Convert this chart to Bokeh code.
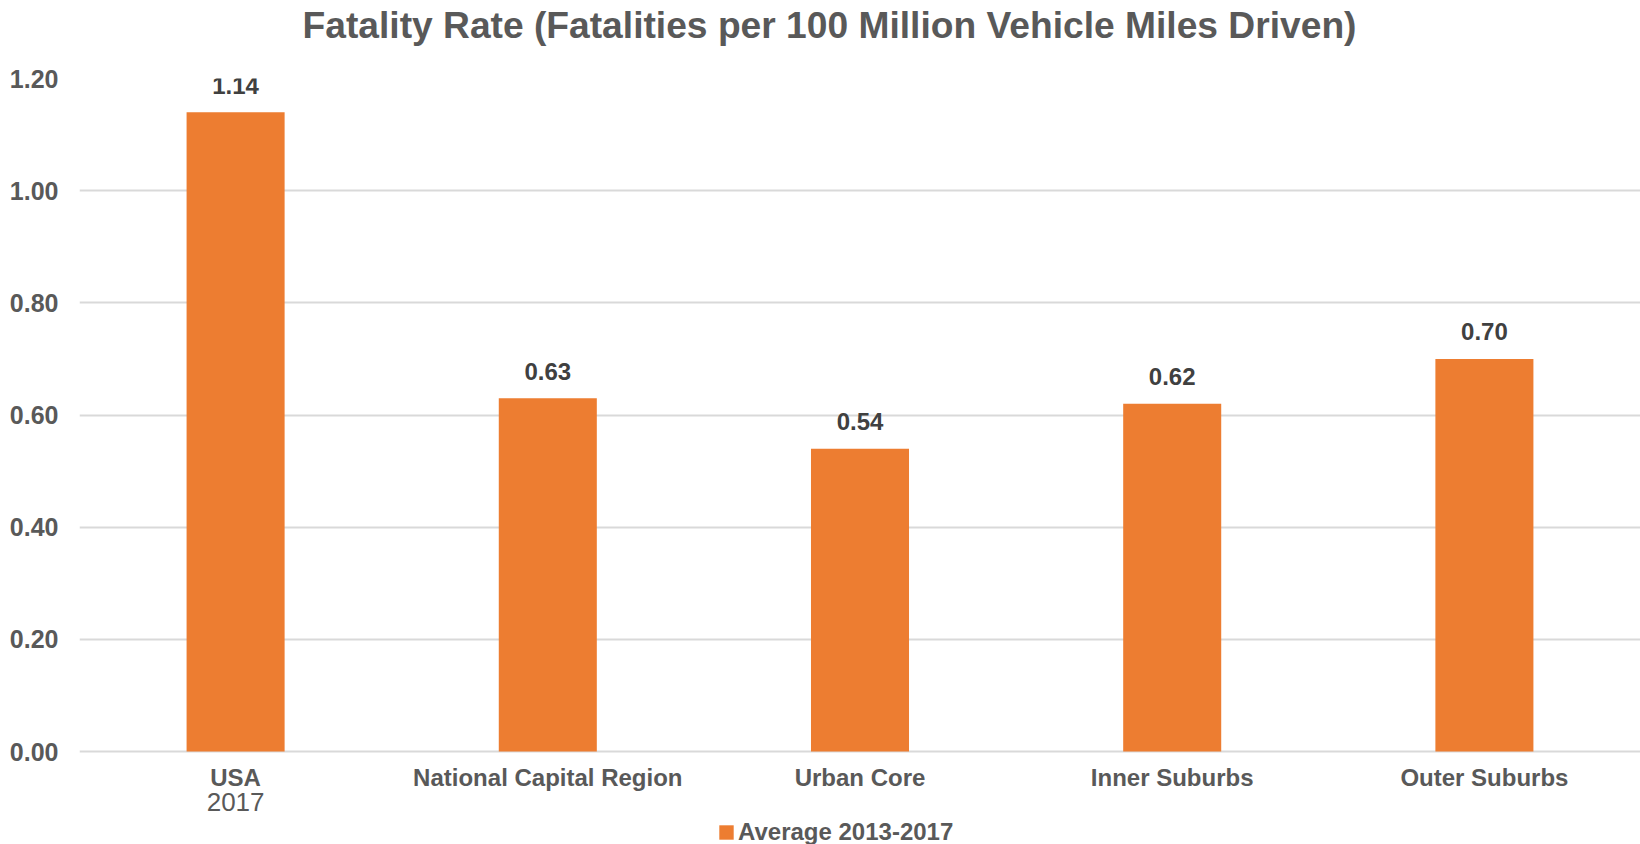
from bokeh.plotting import figure
from bokeh.models import (Range1d, FactorRange, FixedTicker, Title,
                          Legend, LegendItem, ColumnDataSource, NumeralTickFormatter)
from bokeh.core.properties import value
from bokeh.embed import file_html
from bokeh.resources import INLINE

title_text = "Fatality Rate (Fatalities per 100 Million Vehicle Miles Driven)"
categories = ["USA", "National Capital Region", "Urban Core", "Inner Suburbs", "Outer Suburbs"]
sublabels = ["2017", "", "", "", ""]
rates = [1.14, 0.63, 0.54, 0.62, 0.70]
series_name = "Average 2013-2017"
y_ticks = [0.0, 0.2, 0.4, 0.6, 0.8, 1.0, 1.2]

FONT = "Liberation Sans"
GRAY = "#595959"
BAR = "#ED7D31"

# pixel layout of the frame: 0 at y=751, 1.2 at y=78, frame extends to canvas bottom (844)
PX_PER_UNIT = (751 - 78) / 1.2
Y_MIN = -(844 - 751) / PX_PER_UNIT

src = ColumnDataSource(dict(cat=categories, rate=rates, sub=sublabels,
                            base=[0.0] * len(categories),
                            lbl=[f"{v:.2f}" for v in rates]))

p = figure(width=1640, height=844, output_backend="svg", toolbar_location=None,
           x_range=FactorRange(*categories, range_padding=0),
           y_range=Range1d(Y_MIN, 1.2),
           min_border_left=79, min_border_right=0, min_border_top=78, min_border_bottom=0)
p.outline_line_color = None
p.background_fill_color = "white"
p.border_fill_color = "white"

r = p.vbar(x="cat", top="rate", bottom="base", width=0.314, source=src,
           fill_color=BAR, line_color=None)

# value labels
p.text(x="cat", y="rate", text="lbl", source=src, text_align="center", text_baseline="alphabetic",
       y_offset=-27, text_font=value(FONT), text_font_style="bold", text_font_size="24px",
       text_color="#404040")

# category labels (bold) and second line
p.text(x="cat", y="base", text="cat", source=src, text_align="center", text_baseline="alphabetic",
       y_offset=26, text_font=value(FONT), text_font_style="bold", text_font_size="24px",
       text_color=GRAY)
p.text(x="cat", y="base", text="sub", source=src, text_align="center", text_baseline="alphabetic",
       y_offset=50, text_font=value(FONT), text_font_style="normal", text_font_size="26px",
       text_color=GRAY)

# title (spacer keeps it near the top of the canvas)
p.add_layout(Title(text=" ", text_font_size="1px", standoff=25), "above")
p.title.text = title_text
p.title.align = "left"
p.title.offset = 223
p.title.vertical_align = "top"
p.title.standoff = 6
p.title.text_font = FONT
p.title.text_font_style = "bold"
p.title.text_font_size = "37.2px"
p.title.text_color = GRAY

# y axis
p.yaxis.ticker = FixedTicker(ticks=y_ticks)
p.yaxis.formatter = NumeralTickFormatter(format="0.00")
p.yaxis.axis_line_color = None
p.yaxis.major_tick_line_color = None
p.yaxis.minor_tick_line_color = None
p.yaxis.major_label_standoff = 15
p.yaxis.major_label_text_font = FONT
p.yaxis.major_label_text_font_style = "bold"
p.yaxis.major_label_text_font_size = "25px"
p.yaxis.major_label_text_color = GRAY

p.ygrid.ticker = FixedTicker(ticks=y_ticks)
p.ygrid.grid_line_color = "#D9D9D9"
p.ygrid.grid_line_width = 2
p.xgrid.visible = False
p.xaxis.visible = False

legend = Legend(items=[LegendItem(label=series_name, renderers=[r])], location=(638, -2),
                orientation="horizontal", glyph_width=18, glyph_height=18, label_standoff=3,
                padding=0, margin=0, border_line_color=None, background_fill_alpha=0,
                label_text_font=FONT, label_text_font_size="24px", label_text_font_style="bold",
                label_text_color=GRAY)
p.add_layout(legend)

open("out.html", "w").write(file_html(p, INLINE))
